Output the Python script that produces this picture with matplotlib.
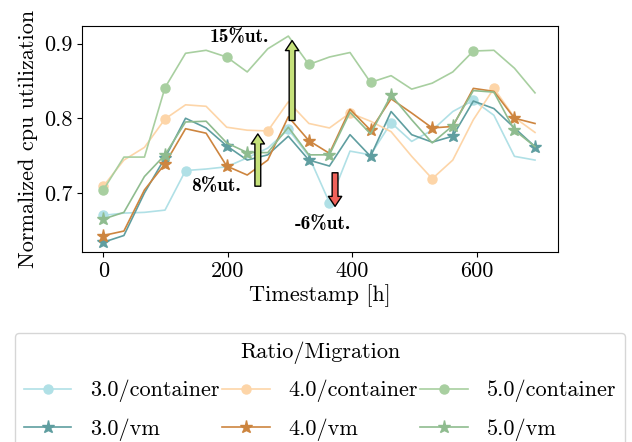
import numpy as np
import matplotlib
matplotlib.use("Agg")
import matplotlib.pyplot as plt

plt.rcParams['font.family'] = 'cmr10'
plt.rcParams['axes.unicode_minus'] = False
plt.rcParams['mathtext.fontset'] = 'cm'

# timestamps (h)
x = np.arange(22) * 33

# container series
c30 = [0.670, 0.673, 0.674, 0.677, 0.730, 0.732, 0.735, 0.747, 0.760, 0.785, 0.749,
       0.687, 0.756, 0.751, 0.794, 0.769, 0.784, 0.809, 0.824, 0.804, 0.749, 0.744]
c40 = [0.709, 0.744, 0.761, 0.799, 0.818, 0.816, 0.788, 0.784, 0.783, 0.822, 0.793,
       0.787, 0.807, 0.796, 0.782, 0.749, 0.719, 0.744, 0.798, 0.840, 0.801, 0.781]
c50 = [0.704, 0.748, 0.748, 0.841, 0.887, 0.891, 0.882, 0.862, 0.893, 0.910, 0.872,
       0.882, 0.888, 0.848, 0.857, 0.839, 0.847, 0.862, 0.890, 0.891, 0.867, 0.834]
# vm series
v30 = [0.634, 0.643, 0.700, 0.747, 0.800, 0.787, 0.763, 0.744, 0.751, 0.776, 0.744,
       0.736, 0.778, 0.749, 0.809, 0.778, 0.768, 0.776, 0.823, 0.813, 0.787, 0.762]
v40 = [0.643, 0.649, 0.704, 0.739, 0.786, 0.780, 0.736, 0.724, 0.744, 0.802, 0.770,
       0.753, 0.812, 0.784, 0.826, 0.807, 0.787, 0.789, 0.840, 0.836, 0.800, 0.793]
v50 = [0.665, 0.674, 0.722, 0.751, 0.795, 0.796, 0.767, 0.754, 0.754, 0.788, 0.751,
       0.751, 0.808, 0.779, 0.831, 0.798, 0.767, 0.790, 0.837, 0.835, 0.784, 0.762]

# marker positions (indices) per series
m_c30 = [0, 4, 9, 11, 14, 18]
m_c40 = [0, 3, 8, 12, 16, 19]
m_c50 = [0, 3, 6, 10, 13, 18]
m_v30 = [0, 3, 6, 10, 13, 17, 21]
m_v40 = [0, 3, 6, 10, 13, 16, 20]
m_v50 = [0, 3, 7, 11, 14, 17, 20]

labels = ['3.0/container', '3.0/vm', '4.0/container', '4.0/vm', '5.0/container', '5.0/vm']

fig = plt.figure(figsize=(6.32, 4.42), dpi=100)
ax = fig.add_axes([0.130, 0.430, 0.753, 0.512])

ax.plot(x, c30, color='#b0e0e6', marker='o', markersize=6.5, markevery=m_c30, lw=1.2, label=labels[0])
ax.plot(x, v30, color='#5f9ea0', marker='*', markersize=9.5, markevery=m_v30, lw=1.2, label=labels[1])
ax.plot(x, c40, color='#fdd5a8', marker='o', markersize=6.5, markevery=m_c40, lw=1.2, label=labels[2])
ax.plot(x, v40, color='#cd853f', marker='*', markersize=9.5, markevery=m_v40, lw=1.2, label=labels[3])
ax.plot(x, c50, color='#a8cfa0', marker='o', markersize=6.5, markevery=m_c50, lw=1.2, label=labels[4])
ax.plot(x, v50, color='#8fbc8f', marker='*', markersize=9.5, markevery=m_v50, lw=1.2, label=labels[5])

aprops = dict(arrowstyle='simple,head_length=0.6,head_width=0.8,tail_width=0.35',
              mutation_scale=12, lw=1.0, ec='black', shrinkA=0, shrinkB=0)
ax.annotate('', xy=(303, 0.904), xytext=(303, 0.797), arrowprops=dict(aprops, fc='#c5e17a'))
ax.annotate('', xy=(248, 0.779), xytext=(248, 0.709), arrowprops=dict(aprops, fc='#c5e17a'))
ax.annotate('', xy=(372, 0.682), xytext=(372, 0.727), arrowprops=dict(aprops, fc='#f0625a'))

bold = dict(family='cmb10', fontsize=14, ha='center', va='center')
ax.text(218, 0.909, '15%ut.', **bold)
ax.text(181, 0.709, '8%ut.', **bold)
ax.text(352, 0.658, '-6%ut.', **bold)

ax.set_xlim(-34, 730)
ax.set_ylim(0.621, 0.924)
ax.set_xticks([0, 200, 400, 600])
ax.set_yticks([0.7, 0.8, 0.9])
ax.tick_params(labelsize=16)
ax.set_xlabel('Timestamp [h]', fontsize=16, labelpad=2)
ax.set_ylabel('Normalized cpu utilization', fontsize=16, labelpad=4)

leg = ax.legend(loc='upper center', bbox_to_anchor=(0.5, -0.307), ncol=3, fontsize=16,
                title='Ratio/Migration', title_fontsize=16, columnspacing=0.1,
                handlelength=2.15, handletextpad=0.85, labelspacing=0.72, markerscale=1.0)

fig.savefig('out.png', dpi=100)
